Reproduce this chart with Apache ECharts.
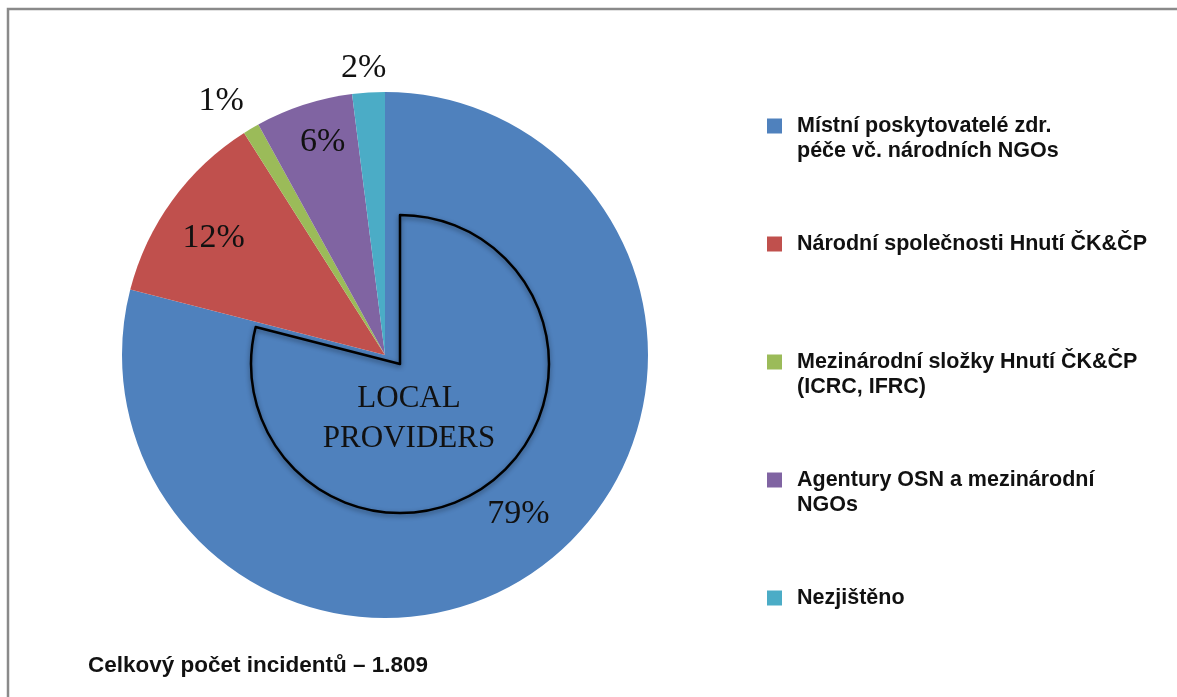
<!DOCTYPE html>
<html>
<head>
<meta charset="utf-8">
<script src="https://cdn.jsdelivr.net/npm/echarts@6/dist/echarts.min.js"></script>
<style>
  html, body { margin: 0; padding: 0; background: #fff; }
  #main { width: 1177px; height: 697px; }
</style>
</head>
<body>
<div id="main"></div>
<script>
// categories in legend order (clockwise from 12 o'clock)
const categories = [
  'Místní poskytovatelé zdr.\npéče vč. národních NGOs',
  'Národní společnosti Hnutí ČK&ČP',
  'Mezinárodní složky Hnutí ČK&ČP\n(ICRC, IFRC)',
  'Agentury OSN a mezinárodní\nNGOs',
  'Nezjištěno'
];
const shares = [79, 12, 1, 6, 2]; // percent
const colors = ['#4F81BD', '#C0504D', '#9BBB59', '#8064A2', '#4BACC6'];
const outsideLabel = [false, false, true, false, true];
const totalText = 'Celkový počet incidentů – 1.809';
const innerText = 'LOCAL\nPROVIDERS';

// small label nudges, px
const labelNudge = { 2: [-16, -4], 3: [2, -15] };

const chart = echarts.init(document.getElementById('main'));

const CX = 385, CY = 355, R = 263;
const clear = 'rgba(0,0,0,0)';
const serif = '"Liberation Serif", "DejaVu Serif", serif';
const sans = '"Liberation Sans", Arial, sans-serif';

// one legend per entry; two-line names get an empty line on top so the
// square sits beside the first text line
const iconY = [126, 244, 362, 480, 598];
const legends = categories.map((name, i) => {
  const twoLines = name.indexOf('\n') >= 0;
  return {
    orient: 'vertical',
    left: 767,
    top: iconY[i] - (twoLines ? 37.5 : 12.5),
    padding: 0,
    icon: 'rect',
    itemWidth: 15,
    itemHeight: 15,
    selectedMode: false,
    data: [{ name: name, itemStyle: { color: colors[i] } }],
    formatter: n => (twoLines ? '\n' + n : n),
    textStyle: {
      fontFamily: sans,
      fontWeight: 'bold',
      fontSize: 21.5,
      lineHeight: 25,
      color: '#111',
      padding: [0, 0, 0, 10]
    }
  };
});

chart.setOption({
  animation: false,
  title: {
    text: totalText,
    left: 88,
    top: 654,
    padding: 0,
    textStyle: { fontFamily: sans, fontWeight: 'bold', fontSize: 22.5, color: '#111' }
  },
  legend: legends,
  graphic: [
    {
      type: 'rect',
      shape: { x: 8, y: 9, width: 1200, height: 720 },
      style: { fill: 'none', stroke: '#8a8a8a', lineWidth: 2.5 },
      silent: true
    },
    {
      type: 'text',
      x: 409, y: 419,
      z: 10,
      style: {
        text: innerText,
        fontFamily: serif,
        fontSize: 31,
        lineHeight: 40,
        align: 'center',
        verticalAlign: 'middle',
        fill: '#111'
      }
    }
  ],
  series: [
    {
      type: 'pie',
      center: [CX, CY],
      radius: R,
      startAngle: 90,
      clockwise: true,
      silent: true,
      label: { show: false },
      labelLine: { show: false },
      itemStyle: { borderWidth: 0 },
      data: categories.map((name, i) => ({
        name: name, value: shares[i], itemStyle: { color: colors[i] }
      }))
    },
    {
      // outlined, pulled-out copy of the local providers slice
      type: 'pie',
      center: [400, 364],
      radius: 149,
      startAngle: 90,
      clockwise: true,
      silent: true,
      z: 3,
      label: { show: false },
      labelLine: { show: false },
      data: categories.map((name, i) => ({
        name: name,
        value: shares[i],
        itemStyle: i === 0
          ? { color: clear, borderColor: '#000', borderWidth: 2.5,
              shadowBlur: 5, shadowColor: 'rgba(0,0,0,0.45)', shadowOffsetY: 2 }
          : { color: clear, borderWidth: 0 }
      }))
    },
    {
      // labels inside the slices
      type: 'pie',
      center: [CX, CY],
      radius: [147, R],
      startAngle: 90,
      clockwise: true,
      silent: true,
      z: 4,
      labelLine: { show: false },
      data: categories.map((name, i) => ({
        name: name,
        value: shares[i],
        itemStyle: { color: clear, borderWidth: 0 },
        label: {
          show: !outsideLabel[i],
          position: 'inside',
          formatter: '{c}%',
          fontFamily: serif,
          fontSize: 34,
          color: '#111',
          offset: labelNudge[i] || (i === 0 ? [6, -5] : [-3, 5])
        }
      }))
    },
    {
      // labels outside the thin slices
      type: 'pie',
      center: [CX, CY],
      radius: [270, 305],
      startAngle: 90,
      clockwise: true,
      silent: true,
      z: 4,
      labelLine: { show: false },
      data: categories.map((name, i) => ({
        name: name,
        value: shares[i],
        itemStyle: { color: clear, borderWidth: 0 },
        label: {
          show: outsideLabel[i],
          position: 'inside',
          formatter: '{c}%',
          fontFamily: serif,
          fontSize: 34,
          color: '#111',
          offset: labelNudge[i] || [-3, 3]
        }
      }))
    }
  ]
});
</script>
</body>
</html>
